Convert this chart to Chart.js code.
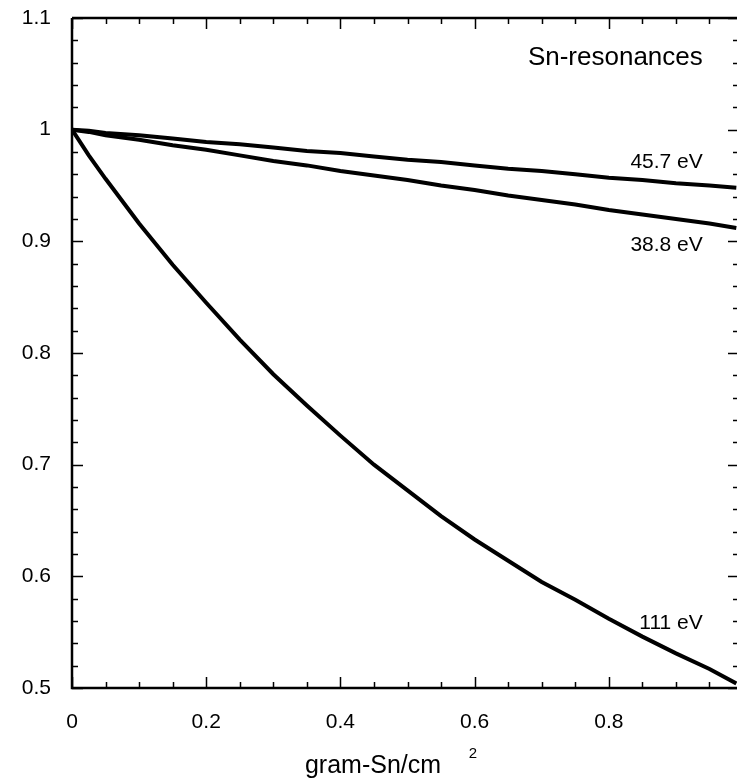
<!DOCTYPE html>
<html>
<head>
<meta charset="utf-8">
<script src="https://cdn.jsdelivr.net/npm/chart.js@4.4.0/dist/chart.umd.min.js"></script>
<style>
  html, body { margin: 0; padding: 0; background: #fff; }
  #wrap { width: 737px; height: 781px; }
</style>
</head>
<body>
<div id="wrap"><canvas id="chart" width="737" height="781"></canvas></div>
<script>
// thickness (gram-Sn/cm^2) and transmission for each resonance
const thickness = [0, 0.025, 0.05, 0.1, 0.15, 0.2, 0.25, 0.3, 0.35, 0.4, 0.45, 0.5, 0.55, 0.6, 0.65, 0.7, 0.75, 0.8, 0.85, 0.9, 0.95, 0.99];
const trans457 = [1.0, 0.999, 0.997, 0.995, 0.992, 0.989, 0.987, 0.984, 0.981, 0.979, 0.976, 0.973, 0.971, 0.968, 0.965, 0.963, 0.960, 0.957, 0.955, 0.952, 0.950, 0.948];
const trans388 = [1.0, 0.998, 0.995, 0.991, 0.986, 0.982, 0.977, 0.972, 0.968, 0.963, 0.959, 0.955, 0.950, 0.946, 0.941, 0.937, 0.933, 0.928, 0.924, 0.920, 0.916, 0.912];
const trans111 = [1.0, 0.977, 0.956, 0.916, 0.879, 0.845, 0.812, 0.781, 0.753, 0.726, 0.700, 0.677, 0.654, 0.633, 0.614, 0.595, 0.579, 0.562, 0.546, 0.531, 0.517, 0.504];

const xMin = 0, xMax = 0.991, xStep = 0.2;
const yMin = 0.5, yMax = 1.1, yStep = 0.1;

const curveLabels = [
    { text: '45.7 eV', x: 0.94, y: 0.966 },
    { text: '38.8 eV', x: 0.94, y: 0.891 },
    { text: '111 eV', x: 0.94, y: 0.553 }
];

const FONT = '"Liberation Sans", Arial, Helvetica, sans-serif';

function toPoints(ys) {
    return thickness.map((t, i) => ({ x: t, y: ys[i] }));
}

// frame, inward ticks, annotations and the axis title
const framePlugin = {
    id: 'frame',
    afterDraw(chart) {
        const ctx = chart.ctx;
        const area = chart.chartArea;
        const xs = chart.scales.x;
        const ys = chart.scales.y;
        ctx.save();
        ctx.strokeStyle = '#000';
        ctx.lineWidth = 2.5;
        ctx.beginPath();
        ctx.moveTo(area.left, area.top);
        ctx.lineTo(area.right, area.top);
        ctx.moveTo(area.left, area.top);
        ctx.lineTo(area.left, area.bottom);
        ctx.lineTo(area.right, area.bottom);
        ctx.stroke();

        ctx.lineWidth = 1.5;
        ctx.beginPath();
        for (let i = 0; i * 0.05 <= xMax + 1e-9; i++) {
            const px = Math.round(xs.getPixelForValue(i * 0.05)) + 0.5;
            const len = i % 4 === 0 ? 11 : 6;
            ctx.moveTo(px, area.bottom);
            ctx.lineTo(px, area.bottom - len);
            ctx.moveTo(px, area.top);
            ctx.lineTo(px, area.top + len);
        }
        for (let j = 0; j <= 30; j++) {
            const py = Math.round(ys.getPixelForValue(yMin + j * 0.02)) + 0.5;
            const len = j % 5 === 0 ? 11 : 6;
            ctx.moveTo(area.left, py);
            ctx.lineTo(area.left + len, py);
            ctx.moveTo(area.right + 2, py);
            ctx.lineTo(area.right + 2 - len, py);
        }
        ctx.stroke();

        ctx.fillStyle = '#000';
        ctx.textAlign = 'right';
        ctx.textBaseline = 'alphabetic';
        ctx.font = '26px ' + FONT;
        ctx.fillText('Sn-resonances', xs.getPixelForValue(0.94), ys.getPixelForValue(1.058));
        ctx.font = '21px ' + FONT;
        curveLabels.forEach(l => {
            ctx.fillText(l.text, xs.getPixelForValue(l.x), ys.getPixelForValue(l.y));
        });

        ctx.textAlign = 'center';
        ctx.font = '25px ' + FONT;
        ctx.fillText('gram-Sn/cm', 373, 773);
        ctx.font = '15px ' + FONT;
        ctx.fillText('2', 473, 758);
        ctx.restore();
    }
};

const lineStyle = {
    borderColor: '#000',
    borderWidth: 4,
    pointRadius: 0,
    tension: 0,
    fill: false
};

new Chart(document.getElementById('chart'), {
    type: 'line',
    data: {
        datasets: [
            { label: '45.7 eV', data: toPoints(trans457), ...lineStyle },
            { label: '38.8 eV', data: toPoints(trans388), ...lineStyle },
            { label: '111 eV', data: toPoints(trans111), ...lineStyle }
        ]
    },
    options: {
        responsive: false,
        animation: false,
        layout: { padding: { top: 18, left: 0, right: 0, bottom: 0 } },
        plugins: {
            legend: { display: false },
            tooltip: { enabled: false }
        },
        scales: {
            x: {
                type: 'linear',
                min: xMin,
                max: xMax,
                grid: { display: false, drawTicks: false },
                border: { display: false },
                afterFit: s => {
                    s.height = 93;
                    s.paddingLeft = 0;
                    s.paddingRight = 0;
                },
                ticks: {
                    stepSize: xStep,
                    includeBounds: false,
                    padding: 22,
                    color: '#000',
                    font: { family: FONT, size: 21 },
                    maxRotation: 0
                }
            },
            y: {
                type: 'linear',
                min: yMin,
                max: yMax,
                grid: { display: false, drawTicks: false },
                border: { display: false },
                afterFit: s => {
                    s.width = 72;
                    s.paddingTop = 0;
                    s.paddingBottom = 0;
                },
                ticks: {
                    stepSize: yStep,
                    padding: 21,
                    color: '#000',
                    font: { family: FONT, size: 21 },
                    callback: v => String(Number(v.toFixed(1)))
                }
            }
        }
    },
    plugins: [framePlugin]
});
</script>
</body>
</html>
